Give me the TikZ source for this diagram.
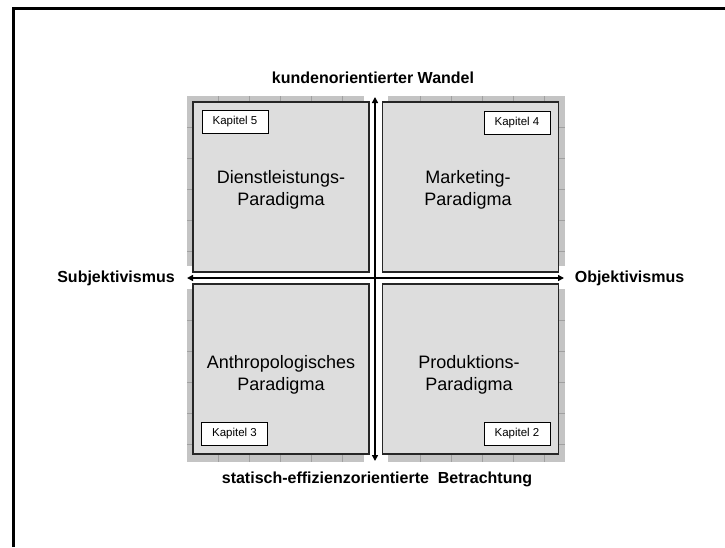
\documentclass[tikz,border=0pt]{standalone}
\usepackage{fontspec}
\setmainfont{Liberation Sans}
\usetikzlibrary{arrows.meta}
\definecolor{boxgray}{RGB}{221,221,221}
\definecolor{patgray}{RGB}{196,196,196}
\definecolor{gridgray}{RGB}{160,160,160}
\begin{document}
\begin{tikzpicture}[x=1pt,y=-1pt,
  quadbox/.style={draw=black!85, line width=1.2pt, fill=boxgray, minimum width=176pt, minimum height=170pt, inner sep=0pt},
  backdrop/.style={fill=patgray, draw=none},
  gridline/.style={draw=gridgray, line width=0.8pt},
  kapbox/.style={draw=black, line width=1pt, fill=white, minimum width=66pt, minimum height=23pt, inner sep=0pt, font=\fontsize{11.5}{13}\selectfont},
  paratext/.style={align=center, inner sep=0pt, font=\fontsize{18}{22}\selectfont},
  axislabel/.style={font=\fontsize{16}{19}\bfseries\selectfont, inner sep=0pt},
  axisline/.style={line width=2pt, {Triangle[length=6pt,width=6pt]}-{Triangle[length=6pt,width=6pt]}}
]
\useasboundingbox (0,0) rectangle (725,547);
% frame
\draw[line width=3pt] (13.5,547) -- (13.5,8.7) -- (725,8.7);
% backdrop
\fill[backdrop] (187,96) rectangle (364,266);
\fill[backdrop] (388,96) rectangle (565,266);
\fill[backdrop] (187,289) rectangle (364,462);
\fill[backdrop] (388,289) rectangle (565,462);
\foreach \x in {218,249,280,311,342}{
  \draw[gridline] (\x,96) -- (\x,266);
  \draw[gridline] (\x,289) -- (\x,462);}
\foreach \x in {420,451,482,513,544}{
  \draw[gridline] (\x,96) -- (\x,266);
  \draw[gridline] (\x,289) -- (\x,462);}
\foreach \y in {127,158,189,220,251}{
  \draw[gridline] (187,\y) -- (364,\y);
  \draw[gridline] (388,\y) -- (565,\y);}
\foreach \y in {320,351,382,413,444}{
  \draw[gridline] (187,\y) -- (364,\y);
  \draw[gridline] (388,\y) -- (565,\y);}
% quadrant boxes
\node[quadbox] (ul) at (281,187) {};
\node[quadbox] (ur) at (470.5,187) {};
\node[quadbox] (ll) at (281,369) {};
\node[quadbox] (lr) at (470.5,369) {};
% texts
\node[paratext] (tul) at (281,189.5) {Dienstleistungs-\\Paradigma};
\node[paratext] (tur) at (468,189.5) {Marketing-\\Paradigma};
\node[paratext] (tll) at (281,375.3) {Anthropologisches\\Paradigma};
\node[paratext] (tlr) at (469,375.3) {Produktions-\\Paradigma};
% chapter boxes
\node[kapbox] (k5) at (235,121.5) {Kapitel 5};
\node[kapbox] (k4) at (517,122.5) {Kapitel 4};
\node[kapbox] (k3) at (234.5,434) {Kapitel 3};
\node[kapbox] (k2) at (517,434) {Kapitel 2};
% axes
\coordinate (west) at (187,278);
\coordinate (east) at (564,278);
\coordinate (north) at (375,97);
\coordinate (south) at (375,461);
\draw[axisline] (west) -- (east);
\draw[axisline] (north) -- (south);
% axis labels
\node[axislabel, anchor=base] (ltop) at (373,83) {kundenorientierter Wandel};
\node[axislabel, anchor=base] (lbot) at (377,483) {statisch-effizienzorientierte~ Betrachtung};
\node[axislabel, anchor=base] (lleft) at (116,282.5) {Subjektivismus};
\node[axislabel, anchor=base] (lright) at (629.5,282.5) {Objektivismus};
\end{tikzpicture}
\end{document}
